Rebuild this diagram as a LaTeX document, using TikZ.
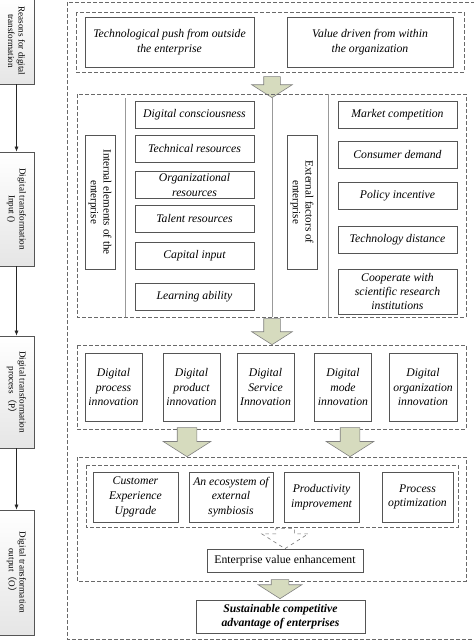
\documentclass[tikz,border=0pt]{standalone}
\usepackage{fontspec}
\setmainfont{Liberation Serif}
\newfontfamily\cjk{Noto Sans CJK SC}
\usepackage{tikz}
\usetikzlibrary{arrows.meta,shapes.arrows}
\definecolor{DTgray}{RGB}{85,85,85}
\definecolor{DTline}{RGB}{105,105,105}
\definecolor{DTarrow}{RGB}{214,219,190}

\begin{document}
\begin{tikzpicture}[
  x=0.3mm,y=-0.3mm,
  stage/.style={rectangle,draw=DTgray,line width=0.6pt,top color=white,bottom color=black!10,rotate=-90,minimum height=10.5mm,align=center,inner sep=1pt,font=\fontsize{7.8}{9}\selectfont},
  push/.style={rectangle,draw=DTgray,line width=0.7pt,fill=white,minimum height=15mm,align=center,font=\fontsize{10}{12.5}\selectfont\itshape},
  factor/.style={rectangle,draw=DTgray,line width=0.7pt,fill=white,minimum width=35.7mm,minimum height=8.1mm,align=center,inner ysep=0pt,font=\fontsize{10}{12}\selectfont\itshape},
  side/.style={rectangle,draw=DTgray,line width=0.7pt,fill=white,rotate=-90,minimum width=40.2mm,minimum height=9mm,align=center,inner sep=1pt,font=\fontsize{9.5}{11}\selectfont},
  innov/.style={rectangle,draw=DTgray,line width=0.7pt,fill=white,minimum width=17.1mm,minimum height=20.4mm,align=center,inner sep=1pt,font=\fontsize{10}{12.5}\selectfont\itshape},
  outcome/.style={rectangle,draw=DTgray,line width=0.7pt,fill=white,minimum height=15mm,align=center,inner sep=1pt,font=\fontsize{10}{12.5}\selectfont\itshape},
  frame/.style={draw=DTline,line width=0.6pt,dash pattern=on 1.1mm off 0.7mm},
  divider/.style={draw=black!40,line width=0.5pt},
  flow/.style={-{Latex[length=1.5mm,width=1.2mm]},line width=0.5pt,draw=black!85},
  bigarrow/.style n args={4}{single arrow,draw=black!50,fill=DTarrow,line width=0.5pt,rotate=-90,anchor=tip,inner xsep=0pt,inner ysep=#2,single arrow head extend=#3,minimum width=#4,minimum height=#1,single arrow tip angle=115},
]
\useasboundingbox (0,0) rectangle (474,642);

% Columna izquierda: etapas
\node[stage,minimum width=25.8mm] (reasons) at (16.5,41) {Reasons for digital\\transformation};
\node[stage,minimum width=34.2mm] (input) at (16.5,209) {Digital transformation\\Input ()};
\node[stage,minimum width=33.6mm] (process) at (16.5,392) {Digital transformation\\process{\cjk （}P{\cjk ）}};
\node[stage,minimum width=37.5mm] (output) at (16.5,572.5) {Digital transformation\\output{\cjk （}O{\cjk ）}};

\draw[flow] (reasons) -- (input);
\draw[flow] (input) -- (process);
\draw[flow] (process) -- (output);

% Marco exterior
\draw[frame] (67,2) rectangle (477,639);

% Bloque 1: razones
\draw[frame] (76,12) rectangle (464,72);
\node[push,minimum width=50.7mm] (techpush) at (169.5,42) {Technological push from outside\\the enterprise};
\node[push,minimum width=49.8mm] (value) at (370,42) {Value driven from within\\the organization};

\node[bigarrow={6.3mm}{2.4mm}{3.6mm}{12mm}] (arr1) at (272,98) {};

% Bloque 2: insumos
\draw[frame] (77,94) rectangle (466,317);
\draw[divider] (125,98) -- (125,317);
\draw[divider] (272,98) -- (272,317);
\draw[divider] (328,94) -- (328,317);

\node[side] (internal) at (100,202) {Internal elements of the\\enterprise};
\node[factor] (consc) at (194.5,114.5) {Digital consciousness};
\node[factor] (techres) at (194.5,148.5) {Technical resources};
\node[factor] (orgres) at (194.5,185) {Organizational\\resources};
\node[factor] (talent) at (194.5,219) {Talent resources};
\node[factor] (capital) at (194.5,255.5) {Capital input};
\node[factor] (learning) at (194.5,296.5) {Learning ability};

\node[side] (external) at (302,202) {External factors of\\enterprise};
\node[factor] (market) at (397.5,114.5) {Market competition};
\node[factor] (consumer) at (397.5,155) {Consumer demand};
\node[factor] (policy) at (397.5,195.5) {Policy incentive};
\node[factor] (techdist) at (397.5,239.5) {Technology distance};
\node[factor,minimum height=13.5mm] (coop) at (397.5,291.5) {Cooperate with\\scientific research\\institutions};

\node[bigarrow={7.8mm}{2.4mm}{3.6mm}{12mm}] (arr2) at (272,345) {};

% Bloque 3: proceso
\draw[frame] (77,345) rectangle (466,429);
\node[innov] (dprocess) at (113.5,387) {Digital\\process\\innovation};
\node[innov] (dproduct) at (191.5,387) {Digital\\product\\innovation};
\node[innov] (dservice) at (265.5,387) {Digital\\Service\\Innovation};
\node[innov] (dmode) at (343,387) {Digital\\mode\\innovation};
\node[innov,minimum width=20.4mm] (dorg) at (423,387) {Digital\\organization\\innovation};

\node[bigarrow={8.7mm}{2.85mm}{4.2mm}{14.1mm}] (arr3a) at (187,457) {};
\node[bigarrow={8.7mm}{2.85mm}{4.2mm}{14.1mm}] (arr3b) at (350,457) {};

% Bloque 4: resultados
\draw[frame] (77,457) rectangle (466,581);
\draw[frame] (86,465) rectangle (458,527);
\node[outcome,minimum width=25.5mm] (customer) at (135.5,497) {Customer\\Experience\\Upgrade};
\node[outcome,minimum width=25.2mm] (ecosys) at (231,497) {An ecosystem of\\external\\symbiosis};
\node[outcome,minimum width=22.5mm] (product) at (321.5,497) {Productivity\\improvement};
\node[outcome,minimum width=21.3mm] (optim) at (417.5,497) {Process\\optimization};

\node[bigarrow={6mm}{2.7mm}{4.2mm}{13.8mm},fill=white,dashed,draw=black!55] (arr4) at (285,549) {};
\node[rectangle,draw=DTgray,line width=0.7pt,fill=white,minimum width=46.8mm,minimum height=6.9mm,inner sep=1pt,font=\fontsize{10}{12}\selectfont] (enhance) at (285,560.5) {Enterprise value enhancement};

\node[bigarrow={5.7mm}{2.55mm}{3.9mm}{12.9mm}] (arr5) at (280,599) {};
\node[rectangle,draw=DTgray,line width=0.7pt,fill=white,minimum width=50.7mm,minimum height=9.9mm,align=center,inner sep=1pt,font=\fontsize{10}{12.5}\selectfont\bfseries\itshape] (sustain) at (280.5,616.5) {Sustainable competitive\\advantage of enterprises};

\end{tikzpicture}
\end{document}
